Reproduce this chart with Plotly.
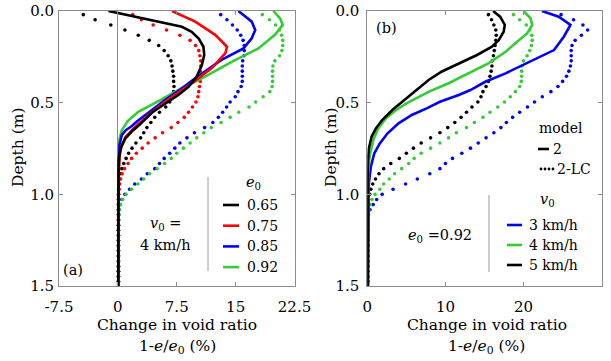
import plotly.graph_objects as go

# ---------------- data ----------------
# depth grid of the "2-LC" (dotted) profiles, m
depth_lc = [0.020, 0.048, 0.076, 0.104, 0.132, 0.160, 0.188, 0.216, 0.244, 0.272,
            0.300, 0.328, 0.356, 0.384, 0.412, 0.440, 0.468, 0.496, 0.524, 0.552,
            0.580, 0.608, 0.636, 0.664, 0.692, 0.720, 0.748, 0.776, 0.804, 0.832,
            0.860, 0.888, 0.916, 0.944, 0.972, 1.000, 1.028, 1.056, 1.084, 1.112,
            1.140, 1.168, 1.196, 1.224, 1.252, 1.280, 1.308, 1.336, 1.364, 1.392,
            1.420, 1.448, 1.476]

# panel (a): v0 = 4 km/h, model 2-LC (dotted)
a_lc_065 = [-4.4, -2.9, -0.9, 0.9, 2.6, 4.0, 5.2, 5.9, 6.4, 6.75,
            6.9, 7.0, 7.1, 7.1, 7.15, 7.1, 6.95, 6.6, 6.1, 5.3,
            4.7, 4.2, 3.7, 3.3, 2.9, 2.3, 1.8, 1.37, 1.05, 0.75,
            0.5, 0.35, 0.22, 0.15, 0.1, 0.08, 0.07, 0.06, 0.06, 0.06,
            0.06, 0.06, 0.06, 0.06, 0.06, 0.06, 0.06, 0.06, 0.06, 0.06,
            0.06, 0.06, 0.06]
a_lc_075 = [1.9, 3.0, 4.5, 6.2, 7.9, 9.2, 9.9, 10.3, 10.45, 10.55,
            10.55, 10.5, 10.55, 10.5, 10.4, 10.3, 10.2, 9.95, 9.5, 9.0,
            8.45, 7.65, 6.8, 5.7, 4.75, 3.85, 3.1, 2.35, 1.75, 1.3,
            0.85, 0.55, 0.35, 0.22, 0.15, 0.1, 0.09, 0.08, 0.08, 0.08,
            0.08, 0.08, 0.08, 0.08, 0.08, 0.08, 0.08, 0.08, 0.08, 0.08,
            0.08, 0.08, 0.08]
a_lc_085 = [13.1, 13.9, 14.6, 15.2, 15.65, 15.95, 16.1, 16.1, 16.05, 15.9,
            15.85, 15.85, 15.85, 15.85, 15.7, 15.3, 14.95, 14.3, 13.85, 13.35,
            12.8, 12.1, 11.05, 9.75, 8.8, 7.9, 7.25, 6.6, 5.9, 5.3,
            4.7, 3.75, 3.0, 2.15, 1.5, 0.9, 0.5, 0.28, 0.18, 0.12,
            0.1, 0.09, 0.08, 0.08, 0.08, 0.08, 0.08, 0.08, 0.08, 0.08,
            0.08, 0.08, 0.08]
a_lc_092 = [18.4, 19.3, 20.1, 20.6, 20.85, 21.0, 21.0, 20.9, 20.6, 20.0,
            19.75, 19.7, 19.7, 19.7, 19.65, 19.35, 18.5, 17.55, 16.7, 15.4,
            14.3, 13.15, 11.9, 10.95, 10.05, 9.2, 8.35, 7.5, 6.8, 5.95,
            5.0, 4.05, 3.3, 2.55, 1.75, 1.05, 0.6, 0.32, 0.18, 0.12,
            0.1, 0.09, 0.08, 0.08, 0.08, 0.08, 0.08, 0.08, 0.08, 0.08,
            0.08, 0.08, 0.08]

# panel (a): model 2 (solid)
a_d_065 = [0, 0.044, 0.086, 0.113, 0.15, 0.195, 0.24, 0.295, 0.358, 0.413, 0.458, 0.495,
           0.549, 0.62, 0.66, 0.695, 0.75, 0.8, 0.9, 1.5]
a_m2_065 = [-1.2, 3.5, 8.15, 9.4, 10.3, 10.9, 11.0, 10.7, 10.05, 9.0, 7.7, 6.4,
            4.5, 2.75, 1.7, 0.95, 0.35, 0.15, 0.08, 0.05]
a_d_075 = [0, 0.058, 0.13, 0.195, 0.23, 0.31, 0.386, 0.45, 0.495, 0.55, 0.6, 0.64,
           0.686, 0.73, 0.79, 0.9, 1.5]
a_m2_075 = [6.9, 9.85, 12.4, 13.9, 13.7, 12.0, 9.7, 7.6, 6.0, 4.4, 3.0, 2.0,
            1.0, 0.5, 0.22, 0.1, 0.05]
a_d_085 = [0, 0.058, 0.104, 0.149, 0.204, 0.267, 0.367, 0.43, 0.486, 0.55, 0.6, 0.63,
           0.65, 0.677, 0.73, 0.85, 1.5]
a_m2_085 = [15.35, 17.05, 17.5, 17.05, 16.0, 13.2, 9.85, 7.9, 6.0, 4.0, 2.5, 1.7,
            1.0, 0.5, 0.2, 0.08, 0.05]
a_d_092 = [0, 0.04, 0.076, 0.13, 0.204, 0.277, 0.367, 0.42, 0.486, 0.513, 0.55, 0.60,
           0.65, 0.70, 0.78, 1.5]
a_m2_092 = [19.8, 20.65, 21.0, 20.0, 17.9, 14.5, 10.7, 8.15, 5.4, 4.2, 2.6, 1.25,
            0.5, 0.2, 0.08, 0.05]

# panel (b): e0 = 0.92, model 2-LC (dotted)
b_lc_3 = [24.8, 26.4, 27.6, 28.2, 27.4, 26.6, 26.2, 26.1, 26.1, 26.1,
          26.0, 25.8, 25.5, 25.0, 24.4, 23.5, 22.4, 21.4, 20.5, 19.5,
          18.6, 17.8, 17.1, 16.2, 15.2, 14.2, 13.2, 12.1, 10.9, 10.0,
          9.3, 8.0, 6.4, 4.9, 3.3, 1.9, 1.2, 0.75, 0.35, 0.15,
          0.08, 0.07, 0.06, 0.06, 0.06, 0.06, 0.06, 0.06, 0.06, 0.06,
          0.06, 0.06, 0.06]
b_lc_4 = [18.7, 19.5, 20.35, 20.8, 21.05, 21.1, 21.0, 20.8, 20.45, 20.0,
          19.8, 19.75, 19.75, 19.7, 19.5, 18.95, 18.3, 17.55, 16.7, 15.7,
          14.8, 13.7, 12.7, 11.4, 10.4, 9.3, 8.1, 6.9, 6.0, 5.3,
          4.4, 3.5, 2.8, 2.1, 1.6, 1.0, 0.6, 0.35, 0.18, 0.1,
          0.06, 0.05, 0.05, 0.05, 0.05, 0.05, 0.05, 0.05, 0.05, 0.05,
          0.05, 0.05, 0.05]
b_lc_5 = [15.5, 15.9, 16.2, 16.45, 16.5, 16.45, 16.35, 16.25, 16.15, 16.0,
          15.95, 15.85, 15.7, 15.5, 15.2, 14.8, 14.55, 14.15, 13.4, 12.7,
          12.0, 11.2, 10.3, 9.3, 8.1, 6.9, 5.9, 5.0, 4.1, 3.0,
          2.1, 1.5, 1.05, 0.7, 0.45, 0.3, 0.15, 0.08, 0.05, 0.05,
          0.05, 0.05, 0.05, 0.05, 0.05, 0.05, 0.05, 0.05, 0.05, 0.05,
          0.05, 0.05, 0.05]

# panel (b): model 2 (solid)
b_d_3 = [0, 0.031, 0.076, 0.14, 0.213, 0.24, 0.286, 0.34, 0.386, 0.431, 0.458, 0.495,
         0.531, 0.567, 0.613, 0.667, 0.722, 0.776, 0.85, 0.94, 1.5]
b_m2_3 = [22.35, 24.5, 26.0, 25.15, 23.9, 22.6, 20.2, 17.7, 15.1, 13.2, 11.7, 9.3,
          7.6, 5.7, 4.0, 2.6, 1.6, 0.9, 0.45, 0.2, 0.1]
b_d_4 = [0, 0.04, 0.076, 0.122, 0.176, 0.222, 0.286, 0.34, 0.394, 0.44, 0.476, 0.504,
         0.54, 0.585, 0.64, 0.70, 0.79, 0.9, 1.5]
b_m2_4 = [20.0, 20.9, 21.1, 20.45, 18.95, 17.7, 15.5, 13.0, 10.4, 7.9, 6.3, 5.0,
          3.7, 2.4, 1.4, 0.8, 0.3, 0.1, 0.05]
b_d_5 = [0, 0.031, 0.076, 0.113, 0.16, 0.195, 0.24, 0.286, 0.33, 0.376, 0.431, 0.495,
         0.54, 0.595, 0.64, 0.686, 0.75, 0.82, 1.5]
b_m2_5 = [16.1, 17.0, 17.6, 17.45, 16.8, 15.95, 14.05, 11.7, 9.55, 7.85, 6.3, 4.4,
          3.2, 1.9, 1.1, 0.55, 0.2, 0.08, 0.05]

e0_labels = ["0.65", "0.75", "0.85", "0.92"]
v0_labels = ["3 km/h", "4 km/h", "5 km/h"]
xa_ticks = [-7.5, 0, 7.5, 15, 22.5]
xa_text = ["-7.5", "0", "7.5", "15", "22.5"]
xb_ticks = [0, 10, 20, 30]
xb_text = ["0", "10", "20", "30"]
y_ticks = [0, 0.5, 1.0, 1.5]
y_text = ["0.0", "0.5", "1.0", "1.5"]

# ---------------- style ----------------
BLACK, RED, BLUE, GREEN = "#000000", "#ff0000", "#0000ff", "#33cc33"
FONT = "DejaVu Serif"
W, H = 611, 361
FRAME = "#8c8c8c"
LW = 2.6
MS = 3.6


def X(px):
    return px / W


def Y(py):
    return 1 - py / H


fig = go.Figure()

# panel (a) dotted
for xs, c in [(a_lc_065, BLACK), (a_lc_075, RED), (a_lc_085, BLUE), (a_lc_092, GREEN)]:
    fig.add_trace(go.Scatter(x=xs, y=depth_lc, mode="markers",
                             marker=dict(color=c, size=MS, line=dict(width=0)),
                             xaxis="x", yaxis="y", showlegend=False))
# panel (a) solid
for xs, ds, c in [(a_m2_092, a_d_092, GREEN), (a_m2_085, a_d_085, BLUE),
                  (a_m2_075, a_d_075, RED), (a_m2_065, a_d_065, BLACK)]:
    fig.add_trace(go.Scatter(x=xs, y=ds, mode="lines", line=dict(color=c, width=LW),
                             xaxis="x", yaxis="y", showlegend=False))

# panel (b) dotted
for xs, c in [(b_lc_3, BLUE), (b_lc_4, GREEN), (b_lc_5, BLACK)]:
    fig.add_trace(go.Scatter(x=xs, y=depth_lc, mode="markers",
                             marker=dict(color=c, size=MS, line=dict(width=0)),
                             xaxis="x2", yaxis="y2", showlegend=False))
# panel (b) solid
for xs, ds, c in [(b_m2_3, b_d_3, BLUE), (b_m2_4, b_d_4, GREEN), (b_m2_5, b_d_5, BLACK)]:
    fig.add_trace(go.Scatter(x=xs, y=ds, mode="lines", line=dict(color=c, width=LW),
                             xaxis="x2", yaxis="y2", showlegend=False))

axis_common = dict(ticks="inside", ticklen=4, tickcolor=FRAME, tickwidth=1,
                   showline=True, linecolor=FRAME, linewidth=1, mirror="ticks",
                   showgrid=False, automargin=False,
                   tickfont=dict(family=FONT, size=15, color="black"))

fig.update_layout(
    width=W, height=H, margin=dict(l=0, r=0, t=0, b=0, autoexpand=False),
    paper_bgcolor="white", plot_bgcolor="white",
    xaxis=dict(domain=[X(59), X(294.5)], range=[-7.5, 22.5], tickvals=xa_ticks,
               ticktext=xa_text, zeroline=True, zerolinecolor=FRAME, zerolinewidth=1,
               anchor="y", ticklabelstandoff=7, **axis_common),
    yaxis=dict(domain=[Y(286), Y(11)], range=[1.5, 0], tickvals=y_ticks, ticktext=y_text,
               zeroline=False, anchor="x", ticklabelstandoff=1, **axis_common),
    xaxis2=dict(domain=[X(367.3), X(601.7)], range=[0, 30], tickvals=xb_ticks,
                ticktext=xb_text, zeroline=False, anchor="y2", ticklabelstandoff=7,
                **axis_common),
    yaxis2=dict(domain=[Y(286), Y(11)], range=[1.5, 0], tickvals=y_ticks, ticktext=y_text,
                zeroline=False, anchor="x2", ticklabelstandoff=4, **axis_common),
)

ann = []
shapes = []


def text(px, py, s, size=15, xanchor="center", angle=0):
    ann.append(dict(x=X(px), y=Y(py), xref="paper", yref="paper", text=s, showarrow=False,
                    xanchor=xanchor, yanchor="middle", textangle=angle,
                    font=dict(family=FONT, size=size, color="black")))


def seg(x0, y0, x1, y1, color, width, dash="solid"):
    shapes.append(dict(type="line", xref="paper", yref="paper", x0=X(x0), y0=Y(y0),
                       x1=X(x1), y1=Y(y1), line=dict(color=color, width=width, dash=dash)))


# axis titles
for cx, cy in [(177, 325), (487, 325)]:
    text(cx, cy, "Change in void ratio", size=15.5)
    text(cx, cy + 22, "1-<i>e</i>/<i>e</i><sub>0</sub> (%)", size=15.5)
text(18, 148, "Depth (m)", size=15.5, angle=-90)
text(331, 148, "Depth (m)", size=15.5, angle=-90)

# panel (a) annotations
text(73, 270, "(a)", size=14.5)
text(165, 224, "<i>v</i><sub>0</sub> =", size=14.5)
text(165, 245, "4 km/h", size=14.5)
seg(208, 177, 208, 271, "#9a9a9a", 1)
text(253, 183, "<i>e</i><sub>0</sub>", size=14.5)
for i, (lab, c) in enumerate(zip(e0_labels, [BLACK, RED, BLUE, GREEN])):
    yy = 205 + i * 20.7
    seg(223, yy, 239, yy, c, LW)
    text(245, yy, lab, size=14, xanchor="left")

# panel (b) annotations
text(386, 28, "(b)", size=14.5)
text(537, 128, "model", size=14, xanchor="left")
seg(538, 149, 549, 149, BLACK, LW)
text(551, 149, "2", size=14, xanchor="left")
for k in range(4):
    cx = 541 + k * 4
    shapes.append(dict(type="circle", xref="paper", yref="paper", x0=X(cx - 1.4),
                       x1=X(cx + 1.4), y0=Y(169 - 1.4), y1=Y(169 + 1.4),
                       fillcolor=BLACK, line=dict(width=0)))
text(555, 169, "2-LC", size=14, xanchor="left")
seg(489, 195, 489, 272, "#9a9a9a", 1)
text(440, 236, "<i>e</i><sub>0</sub> =0.92", size=14.5)
text(547, 200, "<i>v</i><sub>0</sub>", size=14.5)
for i, (lab, c) in enumerate(zip(v0_labels, [BLUE, GREEN, BLACK])):
    yy = 225 + i * 20
    seg(507, yy, 522, yy, c, LW)
    text(527, yy, lab, size=14, xanchor="left")

fig.update_layout(annotations=ann, shapes=shapes)
fig.write_html("out.html")
